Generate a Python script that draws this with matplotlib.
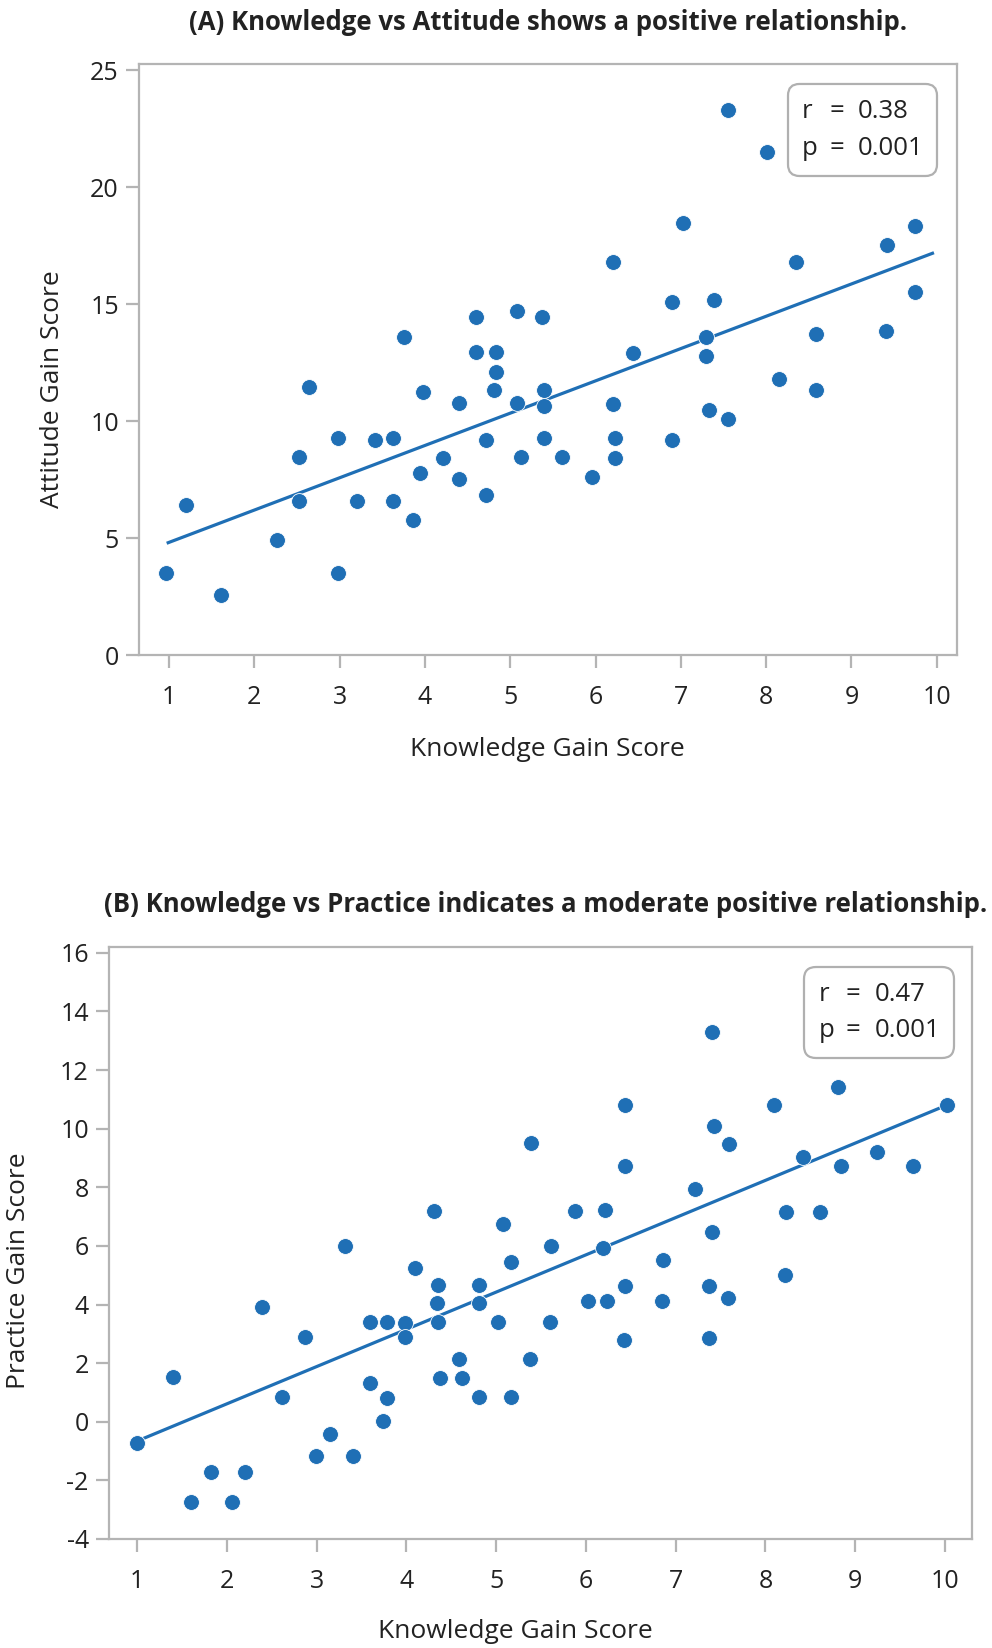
import numpy as np
import matplotlib.pyplot as plt
from matplotlib.patches import FancyBboxPatch

# ---- data ----
# (A) knowledge vs attitude
know_a = [0.97, 1.20, 1.61, 2.26, 2.52, 2.52, 2.64, 2.98, 2.98, 3.20,
          3.41, 3.63, 3.63, 3.76, 3.86, 3.94, 3.98, 4.21, 4.40, 4.40,
          4.60, 4.60, 4.72, 4.72, 4.83, 4.83, 4.81, 5.08, 5.08, 5.13,
          5.37, 5.40, 5.40, 5.40, 5.61, 5.96, 6.21, 6.21, 6.23, 6.23,
          6.44, 6.90, 6.90, 7.03, 7.30, 7.30, 7.33, 7.39, 7.55, 7.55,
          8.01, 8.15, 8.35, 8.58, 8.59, 9.41, 9.42, 9.74, 9.75]
att_a = [3.49, 6.41, 2.58, 4.90, 8.48, 6.58, 11.44, 9.26, 3.49, 6.58,
         9.19, 9.26, 6.58, 13.58, 5.77, 7.78, 11.25, 8.40, 10.76, 7.54,
         14.46, 12.96, 9.19, 6.84, 12.96, 12.11, 11.34, 14.70, 10.78, 8.48,
         14.46, 11.34, 10.66, 9.26, 8.48, 7.62, 16.81, 10.74, 9.26, 8.40,
         12.89, 15.07, 9.19, 18.45, 13.58, 12.78, 10.47, 15.17, 23.29, 10.10,
         21.51, 11.79, 16.81, 11.32, 13.70, 13.85, 17.52, 18.35, 15.50]

# (B) knowledge vs practice
know_b = [1.00, 1.40, 1.60, 1.82, 2.06, 2.20, 2.39, 2.62, 2.87, 2.99,
          3.15, 3.32, 3.41, 3.59, 3.59, 3.74, 3.78, 3.79, 3.98, 3.98,
          4.10, 4.31, 4.34, 4.35, 4.35, 4.38, 4.59, 4.62, 4.81, 4.81,
          4.81, 5.02, 5.08, 5.17, 5.17, 5.38, 5.39, 5.60, 5.61, 5.88,
          6.02, 6.19, 6.21, 6.23, 6.42, 6.43, 6.43, 6.44, 6.85, 6.86,
          7.22, 7.37, 7.37, 7.40, 7.40, 7.43, 7.58, 7.59, 8.09, 8.22,
          8.23, 8.42, 8.61, 8.81, 8.84, 9.24, 9.64, 10.02]
prac_b = [-0.72, 1.54, -2.73, -1.70, -2.73, -1.70, 3.90, 0.85, 2.89, -1.18,
          -0.43, 6.01, -1.18, 3.42, 1.32, 0.04, 3.42, 0.82, 3.37, 2.89,
          5.25, 7.18, 4.04, 4.68, 3.42, 1.48, 2.14, 1.48, 4.68, 4.04,
          0.85, 3.42, 6.76, 5.44, 0.85, 2.14, 9.52, 3.40, 6.01, 7.18,
          4.11, 5.93, 7.24, 4.11, 2.79, 10.81, 4.64, 8.73, 4.11, 5.53,
          7.94, 4.64, 2.87, 13.30, 6.47, 10.08, 4.23, 9.49, 10.81, 5.02,
          7.17, 9.02, 7.17, 11.41, 8.73, 9.21, 8.73, 10.81]

# regression lines (end points as drawn in the reference)
fit_a_x = [0.99, 9.95]
fit_a_y = [4.80, 17.17]
fit_b_x = [1.00, 10.00]
fit_b_y = [-0.66, 10.78]

r_a, p_a = "0.38", "0.001"
r_b, p_b = "0.47", "0.001"

x_ticks = list(range(1, 11))
y_ticks_a = [0, 5, 10, 15, 20, 25]
y_ticks_b = list(range(-4, 17, 2))

title_a = "(A) Knowledge vs Attitude shows a positive relationship."
title_b = "(B) Knowledge vs Practice indicates a moderate positive relationship."

# ---- style ----
plt.rcParams['font.family'] = ['Open Sans', 'DejaVu Sans']
plt.rcParams['axes.unicode_minus'] = False
DOT = '#1f6fb5'
GRAY = '#b4b4b4'
INK = '#222222'
W, H = 992, 1648


def style_axes(ax, xlim, ylim, yticks):
    ax.set_xlim(*xlim)
    ax.set_ylim(*ylim)
    ax.set_xticks(x_ticks)
    ax.set_yticks(yticks)
    for sp in ax.spines.values():
        sp.set_color(GRAY)
        sp.set_linewidth(1.6)
    ax.tick_params(axis='both', color=GRAY, width=1.6, length=9.5,
                   labelsize=18, labelcolor=INK)
    ax.tick_params(axis='x', pad=12)
    ax.tick_params(axis='y', pad=5)


def stats_box(ax, box, rows_y, xs, r_txt, p_txt):
    x0, y0, x1, y1 = box
    bb = ax.get_position()
    aspect = (bb.width * W) / (bb.height * H)
    patch = FancyBboxPatch((x0, y0), x1 - x0, y1 - y0,
                           boxstyle="round,pad=0,rounding_size=0.014",
                           mutation_aspect=aspect,
                           transform=ax.transAxes, facecolor='white',
                           edgecolor='#b0b0b0', linewidth=1.6, zorder=4)
    ax.add_patch(patch)
    for lab, val, yy in [("r", r_txt, rows_y[0]), ("p", p_txt, rows_y[1])]:
        ax.text(xs[0], yy, lab, transform=ax.transAxes, ha='left', va='center',
                fontsize=18.5, color=INK, zorder=5)
        ax.text(xs[1], yy, "=", transform=ax.transAxes, ha='center', va='center',
                fontsize=18.5, color=INK, zorder=5)
        ax.text(xs[2], yy, val, transform=ax.transAxes, ha='left', va='center',
                fontsize=18.5, color=INK, zorder=5)


fig = plt.figure(figsize=(W / 100, H / 100), dpi=100, facecolor='white')

# panel A
ax_a = fig.add_axes([139 / W, 1 - 655 / H, 817.7 / W, 591 / H])
ax_a.plot(fit_a_x, fit_a_y, color=DOT, linewidth=2.3, zorder=2)
ax_a.scatter(know_a, att_a, s=130, color=DOT, edgecolors='white',
             linewidths=0.6, zorder=3)
style_axes(ax_a, (0.648, 10.234), (0, 25.26), y_ticks_a)
stats_box(ax_a, (0.7937, 0.8105, 0.9759, 0.9662), (0.9193, 0.8573),
          (0.8104, 0.8536, 0.8793), r_a, p_a)

# panel B
ax_b = fig.add_axes([109 / W, 1 - 1539 / H, 862.7 / W, 591.7 / H])
ax_b.plot(fit_b_x, fit_b_y, color=DOT, linewidth=2.3, zorder=2)
ax_b.scatter(know_b, prac_b, s=130, color=DOT, edgecolors='white',
             linewidths=0.6, zorder=3)
style_axes(ax_b, (0.688, 10.297), (-4, 16.19), y_ticks_b)
stats_box(ax_b, (0.8056, 0.8129, 0.9795, 0.9667), (0.9194, 0.8590),
          (0.8222, 0.8628, 0.8879), r_b, p_b)

# titles and axis labels
fig.text(548 / W, 1 - 22 / H, title_a, ha='center', va='center',
         fontsize=18.5, fontweight='bold', color=INK)
fig.text(546 / W, 1 - 904 / H, title_b, ha='center', va='center',
         fontsize=18.5, fontweight='bold', color=INK)
fig.text(547.5 / W, 1 - 749 / H, "Knowledge Gain Score", ha='center', va='center',
         fontsize=19, color=INK)
fig.text(515 / W, 1 - 1632 / H, "Knowledge Gain Score", ha='center', va='center',
         fontsize=19, color=INK)
fig.text(52.5 / W, 1 - 389 / H, "Attitude Gain Score", ha='center', va='center',
         rotation=90, fontsize=19, color=INK)
fig.text(19 / W, 1 - 1271 / H, "Practice Gain Score", ha='center', va='center',
         rotation=90, fontsize=19, color=INK)

fig.savefig("out.png", dpi=100, facecolor='white')
